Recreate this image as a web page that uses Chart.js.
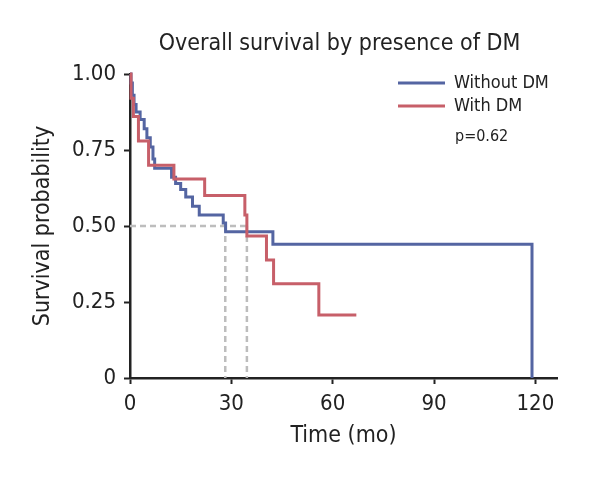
<!DOCTYPE html>
<html>
<head>
<meta charset="utf-8">
<script src="https://cdn.jsdelivr.net/npm/chart.js@4.4.1/dist/chart.umd.min.js"></script>
<style>
  html, body { margin: 0; padding: 0; background: #fff; }
</style>
</head>
<body>
<canvas id="kmChart" width="592" height="477"></canvas>
<script>
const FONT = "'Liberation Sans Narrow', 'DejaVu Sans Condensed', 'Arial Narrow', sans-serif";

// chart data
const chartTitle = 'Overall survival by presence of DM';
const seriesNames = ['Without DM', 'With DM'];
const pValueText = 'p=0.62';

const withoutTimes = [0, 0.3, 0.7, 1.2, 1.8, 3.0, 4.2, 5.0, 6.0, 6.8, 7.3, 12.3, 13.5, 15.0, 16.5, 18.5, 20.5, 27.6, 28.3, 42.3, 119];
const withoutSurv  = [1.0, 0.97, 0.93, 0.90, 0.875, 0.85, 0.82, 0.79, 0.76, 0.72, 0.69, 0.66, 0.64, 0.62, 0.595, 0.565, 0.536, 0.51, 0.481, 0.44, 0];

const withTimes = [0, 0.3, 1.0, 2.5, 5.5, 13.0, 22.1, 34.0, 34.6, 40.4, 42.5, 55.9, 67];
const withSurv  = [1.0, 0.92, 0.86, 0.78, 0.70, 0.655, 0.60, 0.536, 0.467, 0.388, 0.31, 0.207, 0.207];

const medianLevel = 0.5;
const medianTimes = [28.2, 34.6];

const xTicks = [0, 30, 60, 90, 120];
const xMax = 126.4;
const yTicks = [0, 0.25, 0.5, 0.75, 1];
const yTickLabels = ['0', '0.25', '0.50', '0.75', '1.00'];

const colors = ['#5465a2', '#c75f69'];
const dashColor = '#bdbdbd';
const axisColor = '#222';

function toPoints(ts, ss) {
    return ts.map((t, i) => ({ x: t, y: ss[i] }));
}

// dashed median guides
const medianDatasets = [
    { data: [{ x: 0, y: medianLevel }, { x: Math.max(...medianTimes), y: medianLevel }] }
].concat(medianTimes.map(t => ({ data: [{ x: t, y: medianLevel }, { x: t, y: 0 }] })))
 .map(d => Object.assign(d, {
    borderColor: dashColor,
    borderWidth: 2.5,
    borderDash: [6, 4],
    pointRadius: 0,
    order: 5
 }));

// title + legend drawn on the canvas
const annotations = {
    id: 'annotations',
    afterDraw(chart) {
        const { ctx, chartArea } = chart;
        ctx.save();
        ctx.fillStyle = axisColor;
        ctx.textBaseline = 'middle';
        ctx.textAlign = 'center';
        ctx.font = '23px ' + FONT;
        ctx.fillText(chartTitle, (chartArea.left + chartArea.right) / 2 - 4, 44);

        ctx.textAlign = 'left';
        ctx.font = '18px ' + FONT;
        seriesNames.forEach((name, i) => {
            const y = 83 + i * 23;
            ctx.strokeStyle = colors[i];
            ctx.lineWidth = 3;
            ctx.beginPath();
            ctx.moveTo(398, y);
            ctx.lineTo(445, y);
            ctx.stroke();
            ctx.fillText(name, 454, y);
        });
        ctx.font = '16px ' + FONT;
        ctx.fillText(pValueText, 455, 137);
        ctx.restore();
    }
};

const ctx = document.getElementById('kmChart').getContext('2d');
const kmChart = new Chart(ctx, {
    type: 'line',
    data: {
        datasets: [
            {
                label: seriesNames[0],
                data: toPoints(withoutTimes, withoutSurv),
                borderColor: colors[0],
                borderWidth: 3,
                stepped: 'before',
                pointRadius: 0,
                order: 2
            },
            {
                label: seriesNames[1],
                data: toPoints(withTimes, withSurv),
                borderColor: colors[1],
                borderWidth: 3,
                stepped: 'before',
                pointRadius: 0,
                order: 1
            }
        ].concat(medianDatasets)
    },
    options: {
        responsive: false,
        animation: false,
        clip: false,
        layout: { padding: { top: 74, right: 35, left: 0, bottom: 0 } },
        plugins: {
            legend: { display: false },
            tooltip: { enabled: false }
        },
        scales: {
            x: {
                type: 'linear',
                min: 0,
                max: xMax,
                afterBuildTicks: s => { s.ticks = xTicks.map(v => ({ value: v })); },
                afterFit: s => { s.height = 99; },
                ticks: {
                    color: axisColor,
                    font: { family: FONT, size: 22 },
                    padding: 7,
                    maxRotation: 0
                },
                grid: {
                    drawOnChartArea: false,
                    tickLength: 6,
                    tickWidth: 2,
                    tickColor: axisColor
                },
                border: { color: axisColor, width: 2.5 },
                title: {
                    display: true,
                    text: 'Time (mo)',
                    color: axisColor,
                    font: { family: FONT, size: 23 },
                    padding: { top: 0, bottom: 27 }
                }
            },
            y: {
                type: 'linear',
                min: 0,
                max: 1,
                afterBuildTicks: s => { s.ticks = yTicks.map(v => ({ value: v })); },
                afterFit: s => { s.width = 130; },
                ticks: {
                    color: axisColor,
                    font: { family: FONT, size: 22 },
                    padding: 8,
                    callback: v => yTickLabels[yTicks.indexOf(v)]
                },
                grid: {
                    drawOnChartArea: false,
                    tickLength: 6,
                    tickWidth: 2,
                    tickColor: axisColor
                },
                border: { color: axisColor, width: 2.5 },
                title: {
                    display: true,
                    text: 'Survival probability',
                    color: axisColor,
                    font: { family: FONT, size: 23 },
                    padding: { top: 29, bottom: 0 }
                }
            }
        }
    },
    plugins: [annotations]
});
</script>
</body>
</html>
